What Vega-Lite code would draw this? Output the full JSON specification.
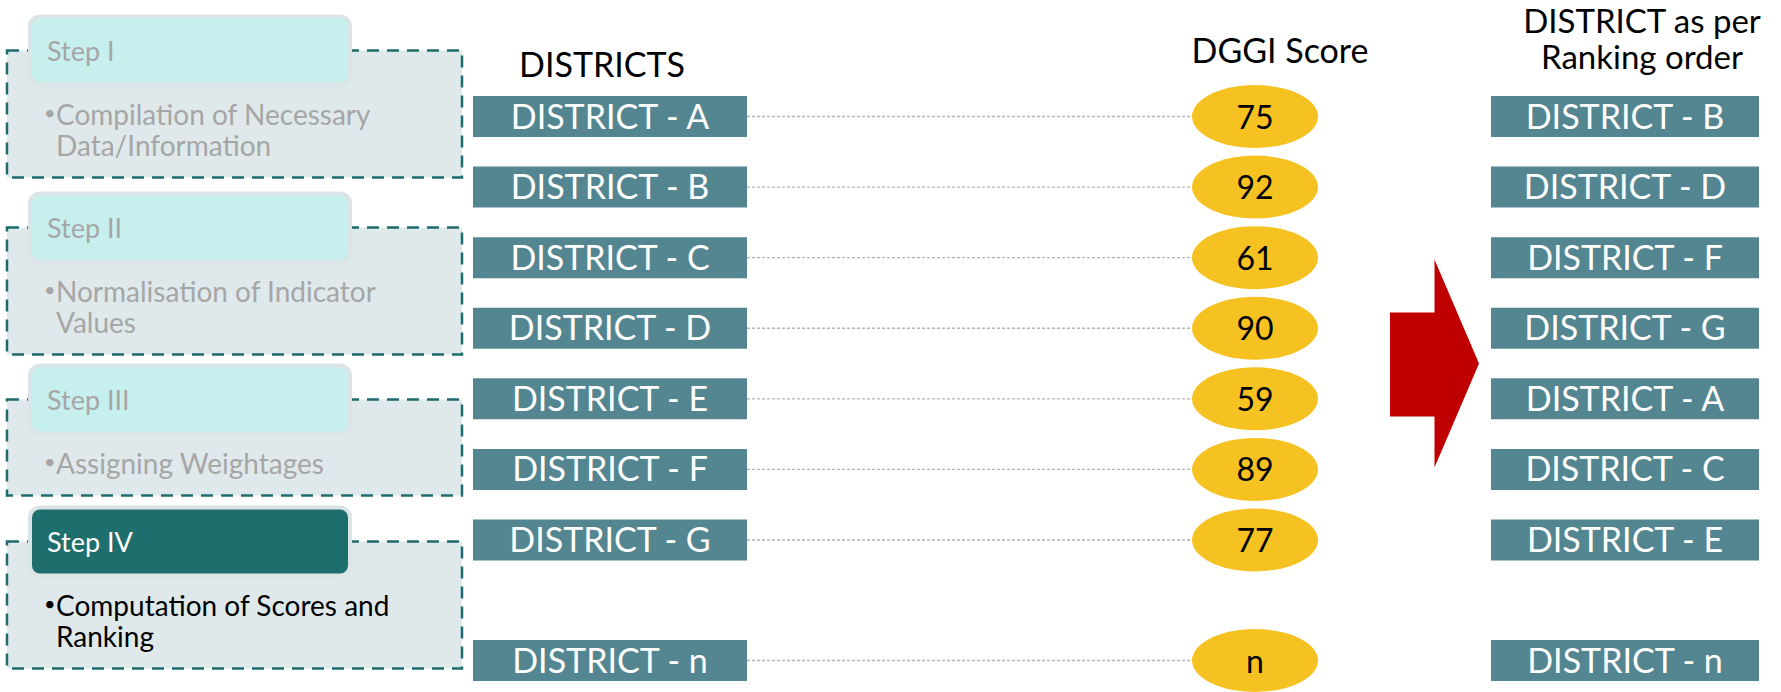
{
  "$schema": "https://vega.github.io/schema/vega-lite/v6.json",
  "width": 1781,
  "height": 692,
  "autosize": {"type": "fit", "contains": "padding"},
  "padding": 0,
  "background": "white",
  "config": {"view": {"stroke": null}, "font": "Lato"},
  "datasets": {
    "steps": [
      {"order": 1, "step": "Step I", "desc": ["Compilation of Necessary", "Data/Information"], "lines": 2, "active": false},
      {"order": 2, "step": "Step II", "desc": ["Normalisation of Indicator", "Values"], "lines": 2, "active": false},
      {"order": 3, "step": "Step III", "desc": ["Assigning Weightages"], "lines": 1, "active": false},
      {"order": 4, "step": "Step IV", "desc": ["Computation of Scores and", "Ranking"], "lines": 2, "active": true}
    ],
    "districts": [
      {"district": "DISTRICT - A", "row": 1, "score": 75, "rank": 5},
      {"district": "DISTRICT - B", "row": 2, "score": 92, "rank": 1},
      {"district": "DISTRICT - C", "row": 3, "score": 61, "rank": 6},
      {"district": "DISTRICT - D", "row": 4, "score": 90, "rank": 2},
      {"district": "DISTRICT - E", "row": 5, "score": 59, "rank": 7},
      {"district": "DISTRICT - F", "row": 6, "score": 89, "rank": 3},
      {"district": "DISTRICT - G", "row": 7, "score": 77, "rank": 4},
      {"district": "DISTRICT - n", "row": 8, "score": "n", "rank": 8}
    ],
    "titles": [
      {"column": "districts", "title": ["DISTRICTS"]},
      {"column": "score", "title": ["DGGI Score"]},
      {"column": "ranking", "title": ["DISTRICT as per", "Ranking order"]}
    ]
  },
  "layer": [
    {
      "data": {"name": "steps"},
      "layer": [
        {
          "transform": [{"filter": "datum.lines == 2"}],
          "mark": {"type": "rect", "fill": "#dfe9eb", "stroke": "#1f6b6b", "strokeWidth": 2.5, "strokeDash": [12, 8], "y2Offset": 127},
          "encoding": {
            "x": {"datum": 7, "type": "quantitative", "scale": {"domain": [0, 1781], "nice": false, "zero": false}, "axis": null},
            "x2": {"datum": 462},
            "y": {"field": "order", "type": "quantitative", "scale": {"domain": [1, 2, 3, 4], "range": [50.5, 227.5, 399.5, 541.5], "nice": false, "zero": false}, "axis": null},
            "y2": {"field": "order"}
          }
        },
        {
          "transform": [{"filter": "datum.lines == 1"}],
          "mark": {"type": "rect", "fill": "#dfe9eb", "stroke": "#1f6b6b", "strokeWidth": 2.5, "strokeDash": [12, 8], "y2Offset": 96},
          "encoding": {
            "x": {"datum": 7, "type": "quantitative", "scale": {"domain": [0, 1781], "nice": false, "zero": false}, "axis": null},
            "x2": {"datum": 462},
            "y": {"field": "order", "type": "quantitative", "axis": null},
            "y2": {"field": "order"}
          }
        },
        {
          "mark": {"type": "rect", "cornerRadius": 10, "stroke": "#dbe5e7", "strokeWidth": 4, "yOffset": -34, "y2Offset": 34},
          "encoding": {
            "x": {"datum": 30, "type": "quantitative", "axis": null},
            "x2": {"datum": 350},
            "y": {"field": "order", "type": "quantitative", "axis": null},
            "y2": {"field": "order"},
            "fill": {"condition": {"test": "datum.active", "value": "#1e6e6d"}, "value": "#c6efee"}
          }
        },
        {
          "mark": {"type": "text", "align": "left", "baseline": "middle", "fontSize": 27, "yOffset": 2},
          "encoding": {
            "x": {"datum": 47, "type": "quantitative", "axis": null},
            "y": {"field": "order", "type": "quantitative", "axis": null},
            "text": {"field": "step", "type": "nominal"},
            "color": {"condition": {"test": "datum.active", "value": "#ffffff"}, "value": "#a6a6a6"}
          }
        },
        {
          "mark": {"type": "text", "align": "left", "baseline": "middle", "fontSize": 20, "yOffset": 63, "text": "•"},
          "encoding": {
            "x": {"datum": 44, "type": "quantitative", "axis": null},
            "y": {"field": "order", "type": "quantitative", "axis": null},
            "color": {"condition": {"test": "datum.active", "value": "#000000"}, "value": "#a6a6a6"}
          }
        },
        {
          "mark": {"type": "text", "align": "left", "baseline": "top", "fontSize": 28, "lineHeight": 31, "yOffset": 52},
          "encoding": {
            "x": {"datum": 56, "type": "quantitative", "axis": null},
            "y": {"field": "order", "type": "quantitative", "axis": null},
            "text": {"field": "desc", "type": "nominal"},
            "color": {"condition": {"test": "datum.active", "value": "#000000"}, "value": "#a6a6a6"}
          }
        }
      ]
    },
    {
      "data": {"name": "districts"},
      "layer": [
        {
          "mark": {"type": "rule", "color": "#b3b3b3", "strokeWidth": 1.3, "strokeDash": [3, 2]},
          "encoding": {
            "x": {"datum": 747, "type": "quantitative", "axis": null},
            "x2": {"datum": 1196},
            "y": {"field": "row", "type": "quantitative", "scale": {"domain": [1, 7, 8], "range": [116.5, 540, 660.5], "nice": false, "zero": false}, "axis": null}
          }
        },
        {
          "mark": {"type": "rect", "fill": "#538691", "yOffset": -20.5, "y2Offset": 20.5},
          "encoding": {
            "x": {"datum": 473, "type": "quantitative", "axis": null},
            "x2": {"datum": 747},
            "y": {"field": "row", "type": "quantitative", "axis": null},
            "y2": {"field": "row"}
          }
        },
        {
          "mark": {"type": "text", "align": "center", "baseline": "middle", "fontSize": 34, "color": "#ffffff", "yOffset": 2},
          "encoding": {
            "x": {"datum": 610, "type": "quantitative", "axis": null},
            "y": {"field": "row", "type": "quantitative", "axis": null},
            "text": {"field": "district", "type": "nominal"}
          }
        },
        {
          "mark": {"type": "point", "filled": true, "opacity": 1, "fill": "#f6c222", "strokeWidth": 0, "size": 15876, "shape": "M-1,0A1,0.5,0,1,1,1,0A1,0.5,0,1,1,-1,0Z"},
          "encoding": {
            "x": {"datum": 1255, "type": "quantitative", "axis": null},
            "y": {"field": "row", "type": "quantitative", "axis": null}
          }
        },
        {
          "mark": {"type": "text", "align": "center", "baseline": "middle", "fontSize": 32, "color": "#000000", "yOffset": 2},
          "encoding": {
            "x": {"datum": 1255, "type": "quantitative", "axis": null},
            "y": {"field": "row", "type": "quantitative", "axis": null},
            "text": {"field": "score", "type": "nominal"}
          }
        },
        {
          "mark": {"type": "rect", "fill": "#538691", "yOffset": -20.5, "y2Offset": 20.5},
          "encoding": {
            "x": {"datum": 1491, "type": "quantitative", "axis": null},
            "x2": {"datum": 1759},
            "y": {"field": "rank", "type": "quantitative", "axis": null},
            "y2": {"field": "rank"}
          }
        },
        {
          "mark": {"type": "text", "align": "center", "baseline": "middle", "fontSize": 34, "color": "#ffffff", "yOffset": 2},
          "encoding": {
            "x": {"datum": 1625, "type": "quantitative", "axis": null},
            "y": {"field": "rank", "type": "quantitative", "axis": null},
            "text": {"field": "district", "type": "nominal"}
          }
        },
        {
          "data": {"values": [{"from": "DGGI Score", "to": "Ranking order"}]},
          "mark": {"type": "point", "filled": true, "opacity": 1, "fill": "#c00000", "strokeWidth": 0, "size": 43264, "shape": "M-0.428,-0.49L0,-0.49L0,-1L0.428,0L0,1L0,0.51L-0.428,0.51Z"},
          "encoding": {
            "x": {"datum": 1434.5, "type": "quantitative", "axis": null},
            "y": {"datum": 4.5, "type": "quantitative", "axis": null}
          }
        },
        {
          "data": {"name": "titles"},
          "transform": [{"filter": "datum.column == 'districts'"}],
          "mark": {"type": "text", "align": "center", "baseline": "alphabetic", "fontSize": 34, "color": "#000000", "yOffset": 31},
          "encoding": {
            "x": {"datum": 602, "type": "quantitative", "axis": null},
            "y": {"datum": 0, "type": "quantitative", "axis": null},
            "text": {"field": "title", "type": "nominal"}
          }
        },
        {
          "data": {"name": "titles"},
          "transform": [{"filter": "datum.column == 'score'"}],
          "mark": {"type": "text", "align": "center", "baseline": "alphabetic", "fontSize": 34, "color": "#000000", "yOffset": 17},
          "encoding": {
            "x": {"datum": 1280, "type": "quantitative", "axis": null},
            "y": {"datum": 0, "type": "quantitative", "axis": null},
            "text": {"field": "title", "type": "nominal"}
          }
        },
        {
          "data": {"name": "titles"},
          "transform": [{"filter": "datum.column == 'ranking'"}],
          "mark": {"type": "text", "align": "center", "baseline": "top", "fontSize": 33, "lineHeight": 36, "color": "#000000", "yOffset": -39},
          "encoding": {
            "x": {"datum": 1642, "type": "quantitative", "axis": null},
            "y": {"datum": 0, "type": "quantitative", "axis": null},
            "text": {"field": "title", "type": "nominal"}
          }
        }
      ]
    }
  ],
  "resolve": {"scale": {"y": "independent"}}
}
